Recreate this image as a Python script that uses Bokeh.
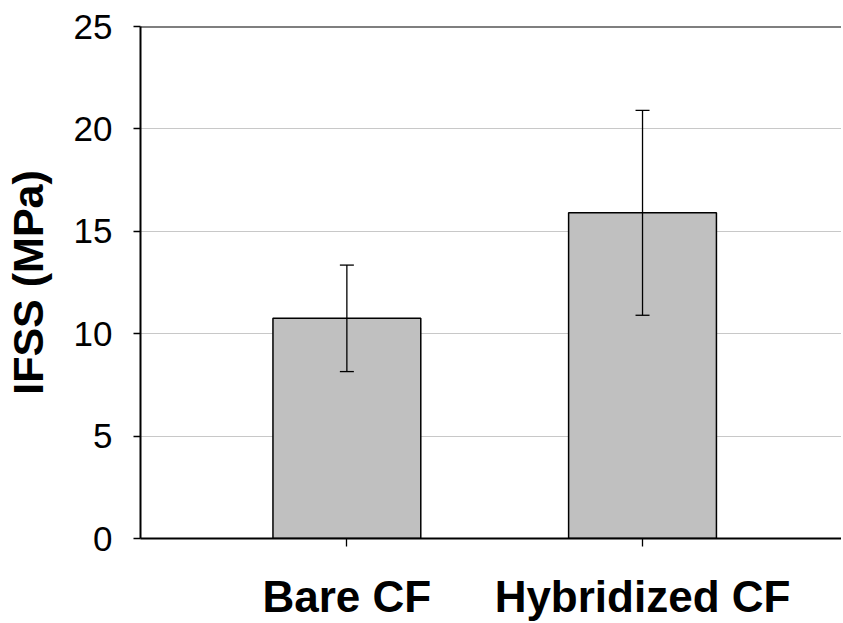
from bokeh.plotting import figure
from bokeh.models import (Range1d, FixedTicker, ColumnDataSource, Whisker, TeeHead, Span)
from bokeh.embed import file_html
from bokeh.resources import INLINE

categories = ["Bare CF", "Hybridized CF"]
ifss_mean = [10.75, 15.9]
ifss_err = [2.6, 5.0]
y_ticks = [0, 5, 10, 15, 20, 25]

xpos = [i + 1 for i in range(len(categories))]
lower = [m - e for m, e in zip(ifss_mean, ifss_err)]
upper = [m + e for m, e in zip(ifss_mean, ifss_err)]
src = ColumnDataSource(dict(x=xpos, top=ifss_mean, lower=lower, upper=upper))

FONT = "Liberation Sans"

p = figure(frame_width=701, frame_height=512, output_backend="svg", toolbar_location=None,
           x_range=Range1d(0.302, 2.673), y_range=Range1d(0, 25),
           min_border_left=132, min_border_right=0, min_border_top=26, min_border_bottom=0)
p.outline_line_color = None
p.background_fill_color = "white"
p.border_fill_color = "white"

p.vbar(x="x", top="top", bottom=0, width=0.5, source=src,
       fill_color="#c0c0c0", line_color="black", line_width=1.5)

w = Whisker(source=src, base="x", lower="lower", upper="upper", dimension="height",
            line_color="black", line_width=1.3, level="overlay",
            upper_head=TeeHead(size=14, line_color="black", line_width=1.3),
            lower_head=TeeHead(size=14, line_color="black", line_width=1.3))
p.add_layout(w)

p.add_layout(Span(location=25, dimension="width", line_color="black", line_width=2))

# grid
p.xgrid.visible = False
p.ygrid.ticker = FixedTicker(ticks=[5, 10, 15, 20])
p.ygrid.grid_line_color = "#c8c8c8"
p.ygrid.grid_line_width = 1.2

# y axis
ya = p.yaxis[0]
ya.ticker = FixedTicker(ticks=y_ticks)
ya.axis_line_width = 2
ya.axis_line_color = "black"
ya.major_tick_out = 7
ya.major_tick_in = 0
ya.major_tick_line_width = 1.3
ya.minor_tick_line_color = None
ya.major_label_text_font = FONT
ya.major_label_text_font_size = "35px"
ya.major_label_text_color = "black"
ya.major_label_standoff = 21
ya.axis_label = "IFSS (MPa)"
ya.axis_label_text_font = FONT
ya.axis_label_text_font_size = "43px"
ya.axis_label_text_font_style = "bold"
ya.axis_label_text_color = "black"
ya.axis_label_standoff = 19

# x axis
xa = p.xaxis[0]
xa.ticker = FixedTicker(ticks=xpos)
xa.major_label_overrides = {x: c for x, c in zip(xpos, categories)}
xa.axis_line_width = 2
xa.axis_line_color = "black"
xa.major_tick_out = 8
xa.major_tick_in = 0
xa.major_tick_line_width = 1.3
xa.minor_tick_line_color = None
xa.major_label_text_font = FONT
xa.major_label_text_font_size = "44px"
xa.major_label_text_font_style = "bold"
xa.major_label_text_color = "black"
xa.major_label_text_line_height = 0.9
xa.major_label_standoff = 25

open("out.html", "w").write(file_html(p, INLINE))
